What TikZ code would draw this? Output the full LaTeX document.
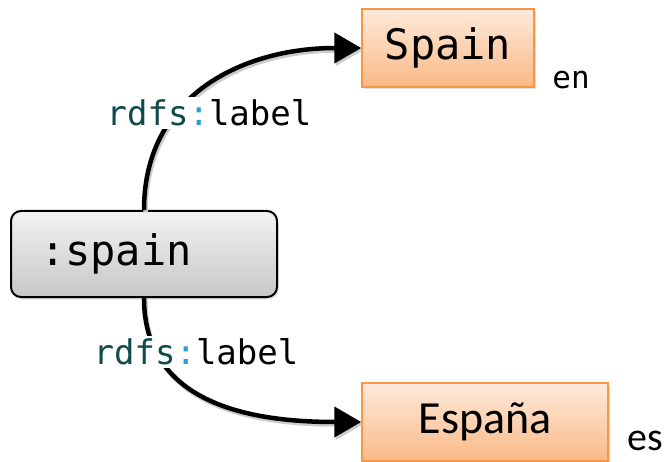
\documentclass[tikz,border=0pt]{standalone}
\usepackage{fontspec}
\setmonofont{DejaVu Sans Mono}
\newfontfamily\calibrifont{Carlito}
\usetikzlibrary{arrows.meta,shadows}
\definecolor{rdfsteal}{RGB}{16,74,76}
\definecolor{rdfsblue}{RGB}{46,154,214}
\definecolor{litedge}{RGB}{247,150,70}
\definecolor{littop}{RGB}{253,234,218}
\definecolor{litbottom}{RGB}{250,185,135}
\newcommand{\rdfslabel}{\textcolor{rdfsteal}{rdfs}\textcolor{rdfsblue}{:}label}
\begin{document}
\begin{tikzpicture}[x=1pt,y=-1pt,
	resource/.style={draw,line width=2pt,rounded corners=10pt,top color=black!5,bottom color=black!22,
		minimum width=266pt,minimum height=86pt,text width=208pt,inner xsep=29pt,align=left,
		font=\fontsize{42}{42}\selectfont\ttfamily,drop shadow={opacity=0.25,shadow xshift=1.5pt,shadow yshift=-2.5pt}},
	literal/.style={draw=litedge,line width=1.5pt,top color=littop,bottom color=litbottom,
		minimum height=78pt,inner sep=0pt,drop shadow={opacity=0.25,shadow xshift=1.5pt,shadow yshift=-2.5pt}},
	lang/.style={inner sep=0pt,anchor=center},
	prop/.style={fill=white,inner sep=3pt,font=\fontsize{34}{34}\selectfont\ttfamily},
	rel/.style={line width=4.5pt,-{Triangle[length=27pt,width=30pt]},looseness=1.1,
		preaction={draw=black!20,line width=4.5pt,transform canvas={shift={(1.5pt,-2.5pt)}}}}]
	\useasboundingbox (0,0) rectangle (671,462);
	\node [resource] (spain) at (144,254) {:spain};
	\node [literal,minimum width=172pt,font=\fontsize{42}{42}\selectfont\ttfamily] (spainen) at (448,48) {Spain};
	\node [literal,minimum width=246pt,font=\fontsize{46}{46}\selectfont\calibrifont] (spaines) at (485,422) {España};
	\node [lang,font=\fontsize{31}{31}\selectfont\ttfamily] (en) at (571,80) {en};
	\node [lang,font=\fontsize{40}{40}\selectfont\calibrifont] (es) at (645,441) {es};
	\draw [rel] (spain.north) to [out=90,in=180] (spainen.west);
	\draw [rel] (spain.south) to [out=-90,in=180] (spaines.west);
	\node [prop] (lblen) at (209,113) {\rdfslabel};
	\node [prop] (lbles) at (196,352) {\rdfslabel};
\end{tikzpicture}
\end{document}
